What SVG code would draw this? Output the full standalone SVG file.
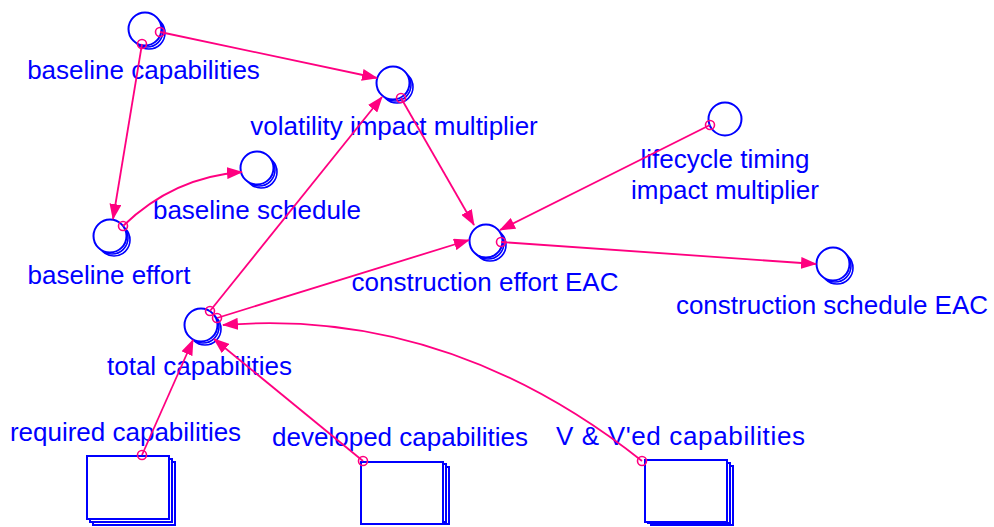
<svg xmlns="http://www.w3.org/2000/svg" width="994" height="527" viewBox="0 0 994 527">
<defs>
<marker id="ah" markerWidth="16" markerHeight="12" refX="15" refY="6" orient="auto" markerUnits="userSpaceOnUse">
<path d="M0,0 L16,6 L0,12 Z" fill="#FF0080"/>
</marker>
<style>
.lbl{font-family:"Liberation Sans",Arial,sans-serif;font-size:26px;fill:#0000FF;text-anchor:middle}
.v{fill:#fff;stroke:#0000FF;stroke-width:2}
.vb{fill:none;stroke:#0000FF;stroke-width:1.6}
.st{fill:#fff;stroke:#0000FF;stroke-width:2}
.c{fill:none;stroke:#FF0080;stroke-width:1.8;marker-end:url(#ah)}
.o{fill:none;stroke:#FF0080;stroke-width:1.6}
</style>
</defs>
<rect width="994" height="527" fill="#fff"/>
<g id="baseline_capabilities">
<circle class="vb" cx="149" cy="33" r="16"/><circle class="vb" cx="147" cy="31" r="16"/>
<circle class="v" cx="145" cy="29" r="16.5"/>
<text class="lbl" x="143.5" y="79">baseline capabilities</text>
</g>
<g id="volatility_impact_multiplier">
<circle class="vb" cx="397" cy="87" r="16"/><circle class="vb" cx="395" cy="85" r="16"/>
<circle class="v" cx="393" cy="83" r="16.5"/>
<text class="lbl" x="394" y="135">volatility impact multiplier</text>
</g>
<g id="baseline_schedule">
<circle class="vb" cx="261" cy="172" r="16"/><circle class="vb" cx="259" cy="170" r="16"/>
<circle class="v" cx="257" cy="168" r="16.5"/>
<text class="lbl" x="257" y="219">baseline schedule</text>
</g>
<g id="baseline_effort">
<circle class="vb" cx="114" cy="240" r="16"/><circle class="vb" cx="112" cy="238" r="16"/>
<circle class="v" cx="110" cy="236" r="16.5"/>
<text class="lbl" x="109" y="284">baseline effort</text>
</g>
<g id="lifecycle_timing_impact_multiplier">
<circle class="v" cx="725" cy="119" r="16.5"/>
<text class="lbl" x="725" y="168">lifecycle timing</text>
<text class="lbl" x="725" y="199">impact multiplier</text>
</g>
<g id="construction_effort_EAC">
<circle class="vb" cx="490" cy="245" r="16"/><circle class="vb" cx="488" cy="243" r="16"/>
<circle class="v" cx="486" cy="241" r="16.5"/>
<text class="lbl" x="485" y="291">construction effort EAC</text>
</g>
<g id="construction_schedule_EAC">
<circle class="vb" cx="837" cy="268" r="16"/><circle class="vb" cx="835" cy="266" r="16"/>
<circle class="v" cx="833" cy="264" r="16.5"/>
<text class="lbl" x="832" y="314">construction schedule EAC</text>
</g>
<g id="total_capabilities">
<circle class="vb" cx="205" cy="329" r="16"/><circle class="vb" cx="203" cy="327" r="16"/>
<circle class="v" cx="201" cy="325" r="16.5"/>
<text class="lbl" x="199.5" y="375">total capabilities</text>
</g>
<g id="required_capabilities">
<rect class="st" x="93" y="462" width="82" height="63"/>
<rect class="st" x="90" y="459" width="82" height="63"/>
<rect class="st" x="87" y="456" width="82" height="63"/>
<text class="lbl" x="125.5" y="441">required capabilities</text>
</g>
<g id="developed_capabilities">
<rect class="st" x="367" y="467" width="82" height="57"/>
<rect class="st" x="364" y="464" width="82" height="58"/>
<rect class="st" x="361" y="462" width="82" height="62"/>
<text class="lbl" x="400" y="446">developed capabilities</text>
</g>
<g id="VVed_capabilities">
<rect class="st" x="651" y="466" width="82" height="59"/>
<rect class="st" x="648" y="463" width="82" height="60"/>
<rect class="st" x="645" y="460" width="82" height="62"/>
<text class="lbl" x="680.5" y="445" textLength="249" lengthAdjust="spacing">V &amp; V'ed capabilities</text>
</g>
<g id="connectors">
<path class="c" d="M160,32 L377,78"/>
<circle class="o" cx="160" cy="32" r="4.5"/>
<path class="c" d="M142,44 L113,219"/>
<circle class="o" cx="142" cy="44" r="4.5"/>
<path class="c" d="M123,226 Q173.5,177 242,172"/>
<circle class="o" cx="123" cy="226" r="4.5"/>
<path class="c" d="M401,98 L474,225"/>
<circle class="o" cx="401" cy="98" r="4.5"/>
<path class="c" d="M710,125 L500,230"/>
<circle class="o" cx="710" cy="125" r="4.5"/>
<path class="c" d="M501,242 L816,264"/>
<circle class="o" cx="501" cy="242" r="4.5"/>
<path class="c" d="M210,311 L382,97"/>
<circle class="o" cx="210" cy="311" r="4.5"/>
<path class="c" d="M217,318 L469,240"/>
<circle class="o" cx="217" cy="318" r="4.5"/>
<path class="c" d="M142,455 L193,340"/>
<circle class="o" cx="142" cy="455" r="4.5"/>
<path class="c" d="M363,461 L214,339"/>
<circle class="o" cx="363" cy="461" r="4.5"/>
<path class="c" d="M642,461 Q447,307 223,325"/>
<circle class="o" cx="642" cy="461" r="4.5"/>
</g>
</svg>
